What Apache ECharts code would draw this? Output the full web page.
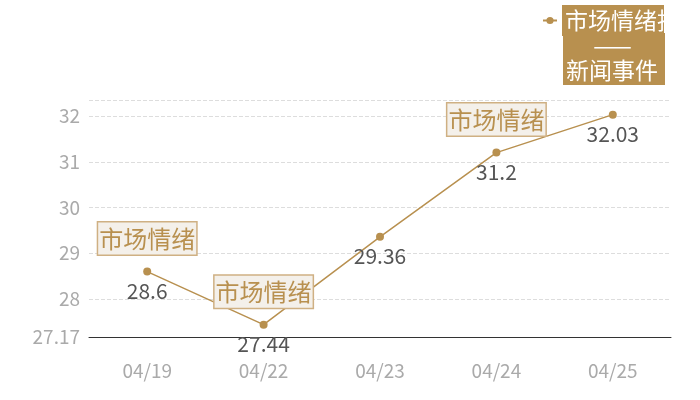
<!DOCTYPE html>
<html>
<head>
<meta charset="utf-8">
<script src="https://cdn.jsdelivr.net/npm/echarts@6/dist/echarts.min.js"></script>
<style>
html, body { margin: 0; padding: 0; background: #fff; }
#main { width: 700px; height: 400px; }
</style>
</head>
<body>
<div id="main"></div>
<script>
// 日期
var dateArr = ['04/19', '04/22', '04/23', '04/24', '04/25'];
// 市场情绪指数
var valueArr = [28.6, 27.44, 29.36, 31.2, 32.03];
// 有新闻事件的日期
var eventDates = ['04/19', '04/22', '04/24'];
var eventValues = [28.6, 27.44, 31.2];

var gold = '#b8904f';
var fontName = '"Noto Sans CJK SC", "Microsoft YaHei", sans-serif';

var eventPoints = [];
for (var i = 0; i < eventDates.length; i++) {
	eventPoints.push({ coord: [eventDates[i], eventValues[i]] });
}

var myChart = echarts.init(document.getElementById('main'));

var option = {
	textStyle: { fontFamily: fontName },
	legend: {
		top: 0,
		left: 537,
		itemWidth: 14,
		itemHeight: 9,
		data: ['市场情绪指数'],
		textStyle: {
			color: '#fff',
			fontSize: 23,
			lineHeight: 26,
			backgroundColor: gold,
			width: 93,
			overflow: 'none',
			padding: [3, 6, 2, 3]
		}
	},
	// 图例下半部分（新闻事件）
	graphic: [{
		type: 'text',
		left: 563,
		top: 33,
		style: {
			text: '{c|——}\n{n|新闻事件}',
			backgroundColor: gold,
			padding: [0, 6, 2, 3],
			rich: {
				c: { width: 93, align: 'center', fill: '#fff', font: '23px ' + fontName, lineHeight: 25 },
				n: { width: 93, fill: '#fff', font: '23px ' + fontName, lineHeight: 25 }
			}
		}
	}],
	grid: {
		left: 89,
		right: 29,
		top: 100,
		bottom: 63
	},
	xAxis: {
		type: 'category',
		data: dateArr,
		axisLine: { lineStyle: { color: '#333' } },
		axisTick: { show: false },
		axisLabel: { color: '#aaa', fontSize: 19, margin: 24 }
	},
	yAxis: {
		type: 'value',
		min: 27.17,
		max: 32.35,
		axisLine: { show: false },
		axisTick: { show: false },
		axisLabel: { color: '#aaa', fontSize: 19, margin: 9, showMaxLabel: false },
		splitLine: { lineStyle: { color: '#ddd', type: 'dashed' } }
	},
	series: [{
		name: '市场情绪指数',
		type: 'line',
		data: valueArr,
		symbol: 'circle',
		symbolSize: 8,
		itemStyle: { color: gold },
		lineStyle: { color: gold, width: 1.5 },
		label: {
			show: true,
			position: 'bottom',
			distance: 5,
			color: '#555',
			fontSize: 21
		},
		markPoint: {
			symbol: 'circle',
			symbolSize: 0,
			data: eventPoints,
			label: {
				show: true,
				position: 'top',
				distance: 17,
				formatter: '市场情绪',
				color: gold,
				fontSize: 24,
				lineHeight: 28,
				backgroundColor: '#f4f0ea',
				borderColor: '#cfb083',
				borderWidth: 1.5,
				padding: [2, 1, 2, 1]
			}
		}
	}]
};

myChart.setOption(option);
</script>
</body>
</html>
